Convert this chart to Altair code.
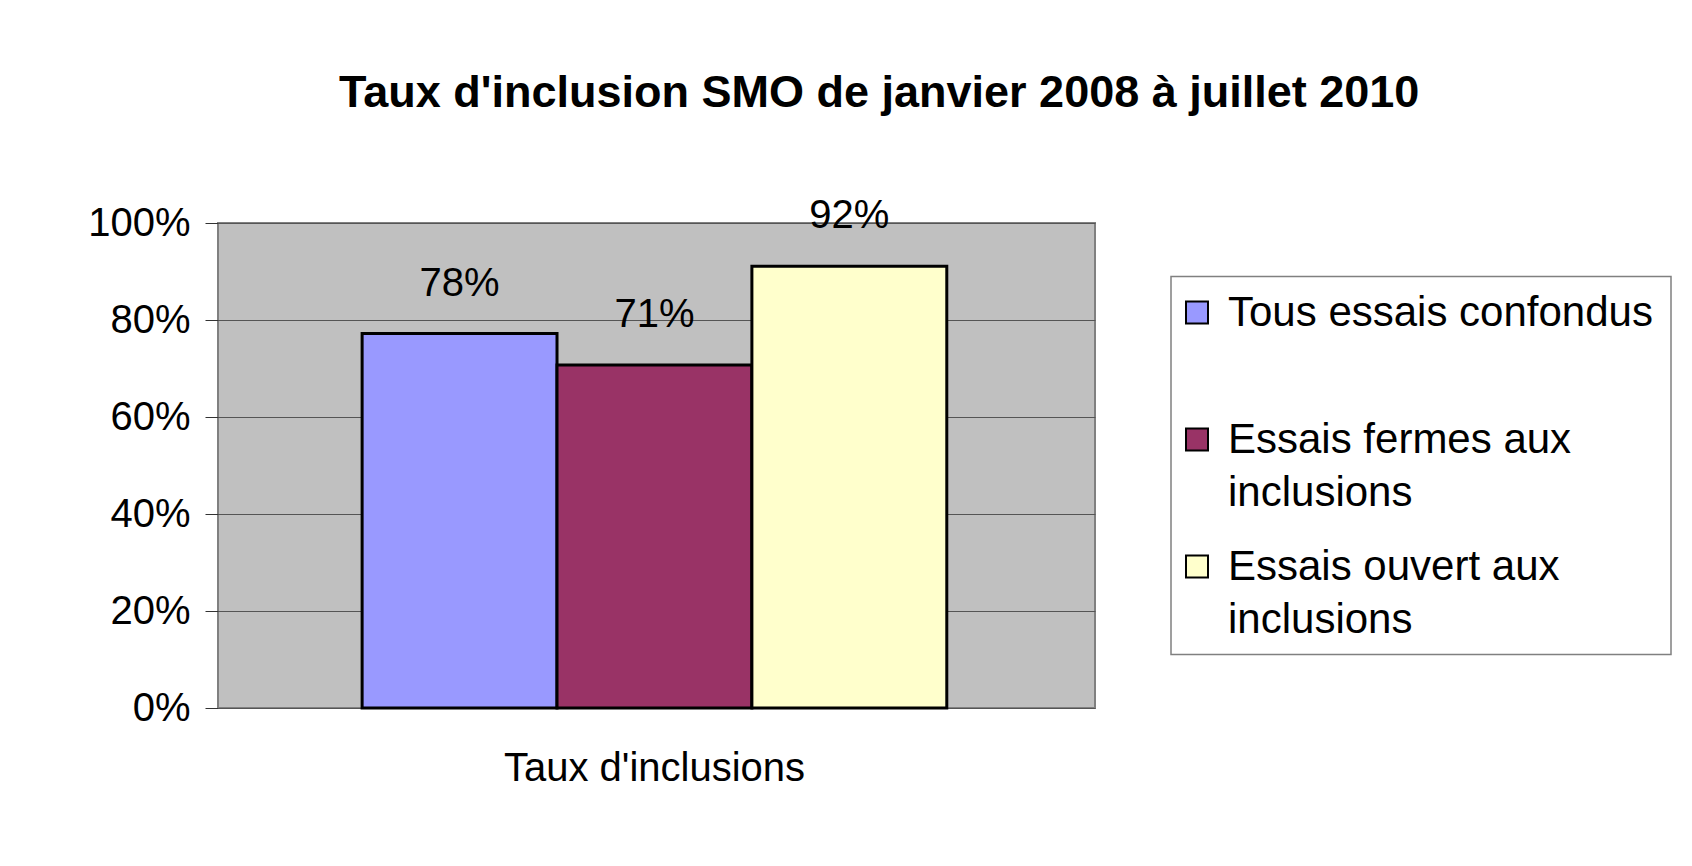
import altair as alt
import pandas as pd

# ---- data ----
chart_title = "Taux d'inclusion SMO de janvier 2008 à juillet 2010"
category = "Taux d'inclusions"
series = ["Tous essais confondus", "Essais fermes aux inclusions", "Essais ouvert aux inclusions"]
legend_labels = ["Tous essais confondus", "Essais fermes aux\ninclusions", "Essais ouvert aux\ninclusions"]
values = [0.772, 0.707, 0.911]
value_labels = ["78%", "71%", "92%"]
colors = ["#9999FF", "#993366", "#FFFFCC"]
y_ticks = [0, 0.2, 0.4, 0.6, 0.8, 1.0]

FONT = "Liberation Sans"

df = pd.DataFrame({
    "cat": [category] * len(series),
    "series": series,
    "value": values,
    "label": value_labels,
})
ldf = pd.DataFrame({"series": series, "text": legend_labels})

color = alt.Color("series:N", sort=series,
                  scale=alt.Scale(domain=series, range=colors), legend=None)

x = alt.X("cat:N",
          scale=alt.Scale(paddingOuter=0.25, paddingInner=0, align=0.493),
          axis=alt.Axis(title=None, labelAngle=0, ticks=False, domain=False,
                        labelFontSize=40, labelPadding=40, labelColor="black",
                        labelFont=FONT, labelLimit=0))
xo = alt.XOffset("series:N", sort=series,
                 scale=alt.Scale(paddingInner=0, paddingOuter=0))
y = alt.Y("value:Q", scale=alt.Scale(domain=[0, 1]),
          axis=alt.Axis(title=None, values=y_ticks, format=".0%",
                        labelFontSize=40, labelFont=FONT, labelColor="black",
                        labelPadding=15, tickSize=13, tickColor="#333333",
                        tickWidth=1, domain=False, grid=True,
                        gridColor="#555555", gridWidth=1))

bars = alt.Chart(df).mark_bar(stroke="black", strokeWidth=3).encode(
    x=x, xOffset=xo, y=y, color=color)
labels = alt.Chart(df).mark_text(fontSize=40, font=FONT, baseline="middle",
                                 dy=-50, color="black").encode(
    x=x, xOffset=xo, y="value:Q", text="label:N")

main = alt.layer(bars, labels).properties(
    width=877, height=485,
    view=alt.ViewBackground(fill="#C0C0C0", stroke="#808080", strokeWidth=2))

ly = alt.Y("series:N", sort=series,
           scale=alt.Scale(type="point", range=[36, 290], padding=0), axis=None)
swatches = alt.Chart(ldf).mark_square(size=484, stroke="black", strokeWidth=2,
                                      opacity=1).encode(
    x=alt.value(26), y=ly, color=color)
ltext = alt.Chart(ldf).mark_text(align="left", baseline="alphabetic", dy=13,
                                 fontSize=42, font=FONT, lineBreak="\n",
                                 lineHeight=53, color="black").encode(
    x=alt.value(57), y=ly, text="text:N")
legend = alt.layer(swatches, ltext).properties(
    width=500, height=378,
    view=alt.ViewBackground(fill="white", stroke="#808080", strokeWidth=1.5))

chart = alt.hconcat(main, legend, spacing=76, bounds="flush", center=True).properties(
    title=alt.TitleParams(chart_title, fontSize=45, fontWeight="bold", font=FONT,
                          anchor="middle", offset=79, color="black"),
    padding={"left": 78, "top": 63, "right": 10, "bottom": 10},
    background="white",
)

chart.save("out.html", embed_options={"renderer": "svg", "actions": False})
